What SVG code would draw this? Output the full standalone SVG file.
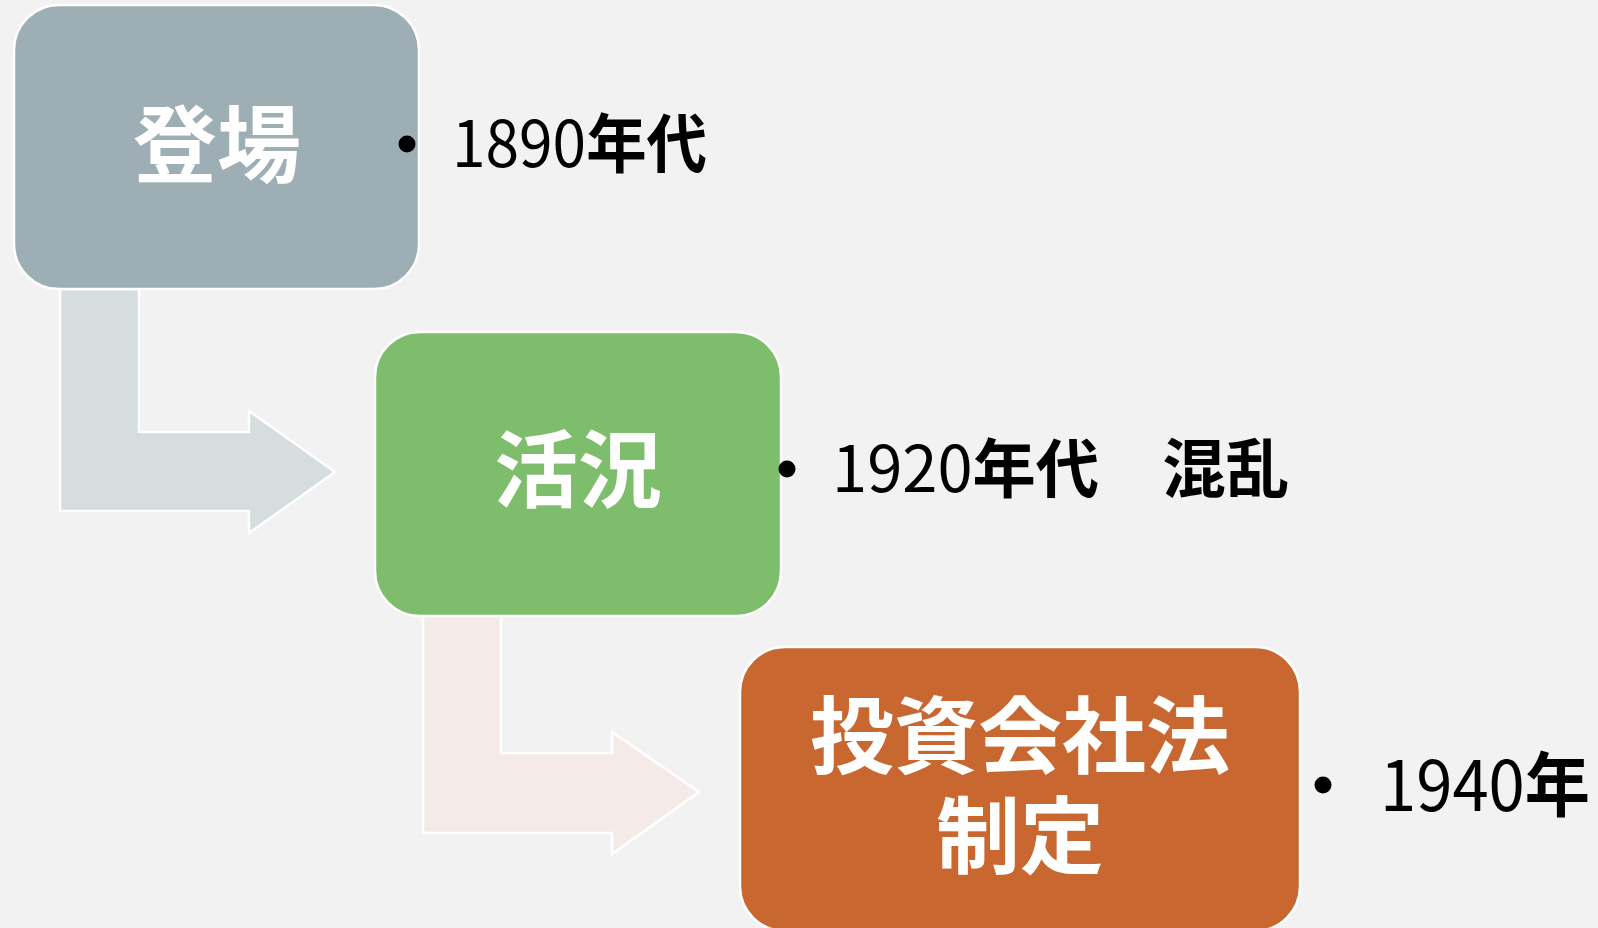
<svg xmlns="http://www.w3.org/2000/svg" width="1598" height="928" viewBox="0 0 1598 928">
<style>
.box{stroke:#FFFFFF;stroke-width:2.5}
.arrow{stroke:#FFFFFF;stroke-width:2.5;stroke-linejoin:miter}
.title{font-family:"Noto Sans CJK JP","Noto Sans CJK SC",sans-serif;font-weight:700;font-size:84px;fill:#FFFFFF;text-anchor:middle}
.note{font-family:"Noto Sans CJK JP","Noto Sans CJK SC",sans-serif;font-weight:400;font-size:64px;fill:#000000}
.big{font-size:70px}
.cjk{font-weight:700}
.dot{fill:#000000}
</style>
<rect x="0" y="0" width="1598" height="928" fill="#F2F2F2"/>
<g id="connectors">
<polygon class="arrow" fill="#D5DDDF" points="60,289 139,289 139,432 249,432 249,411 335,472 249,533 249,511 60,511"/>
<polygon class="arrow" fill="#F4EBE8" points="423,614 501,614 501,753 612,753 612,732 699,792 612,854 612,833 423,833"/>
</g>
<g id="node-toujou">
<rect class="box" x="14" y="5" width="405" height="284" rx="45" ry="45" fill="#9DAFB4"/>
<text class="title" x="217" y="176">登場</text>
<circle class="dot" cx="407" cy="144" r="8.5"/>
<text class="note" x="452" y="167" textLength="255" lengthAdjust="spacingAndGlyphs">1890<tspan class="cjk">年代</tspan></text>
</g>
<g id="node-kaikyou">
<rect class="box" x="375" y="332" width="406" height="284" rx="45" ry="45" fill="#7DBD6B"/>
<text class="title" x="578" y="501">活況</text>
<circle class="dot" cx="787" cy="469" r="8.5"/>
<text class="note" x="832" y="492" textLength="457" lengthAdjust="spacingAndGlyphs">1920<tspan class="cjk">年代　混乱</tspan></text>
</g>
<g id="node-seitei">
<rect class="box" x="740" y="647" width="560" height="284" rx="45" ry="45" fill="#C86730"/>
<text class="title" x="1020" y="767">投資会社法</text>
<text class="title" x="1020" y="867">制定</text>
<circle class="dot" cx="1323" cy="785" r="8.5"/>
<text class="note big" x="1380" y="811" textLength="210" lengthAdjust="spacingAndGlyphs">1940<tspan class="cjk">年</tspan></text>
</g>
</svg>
